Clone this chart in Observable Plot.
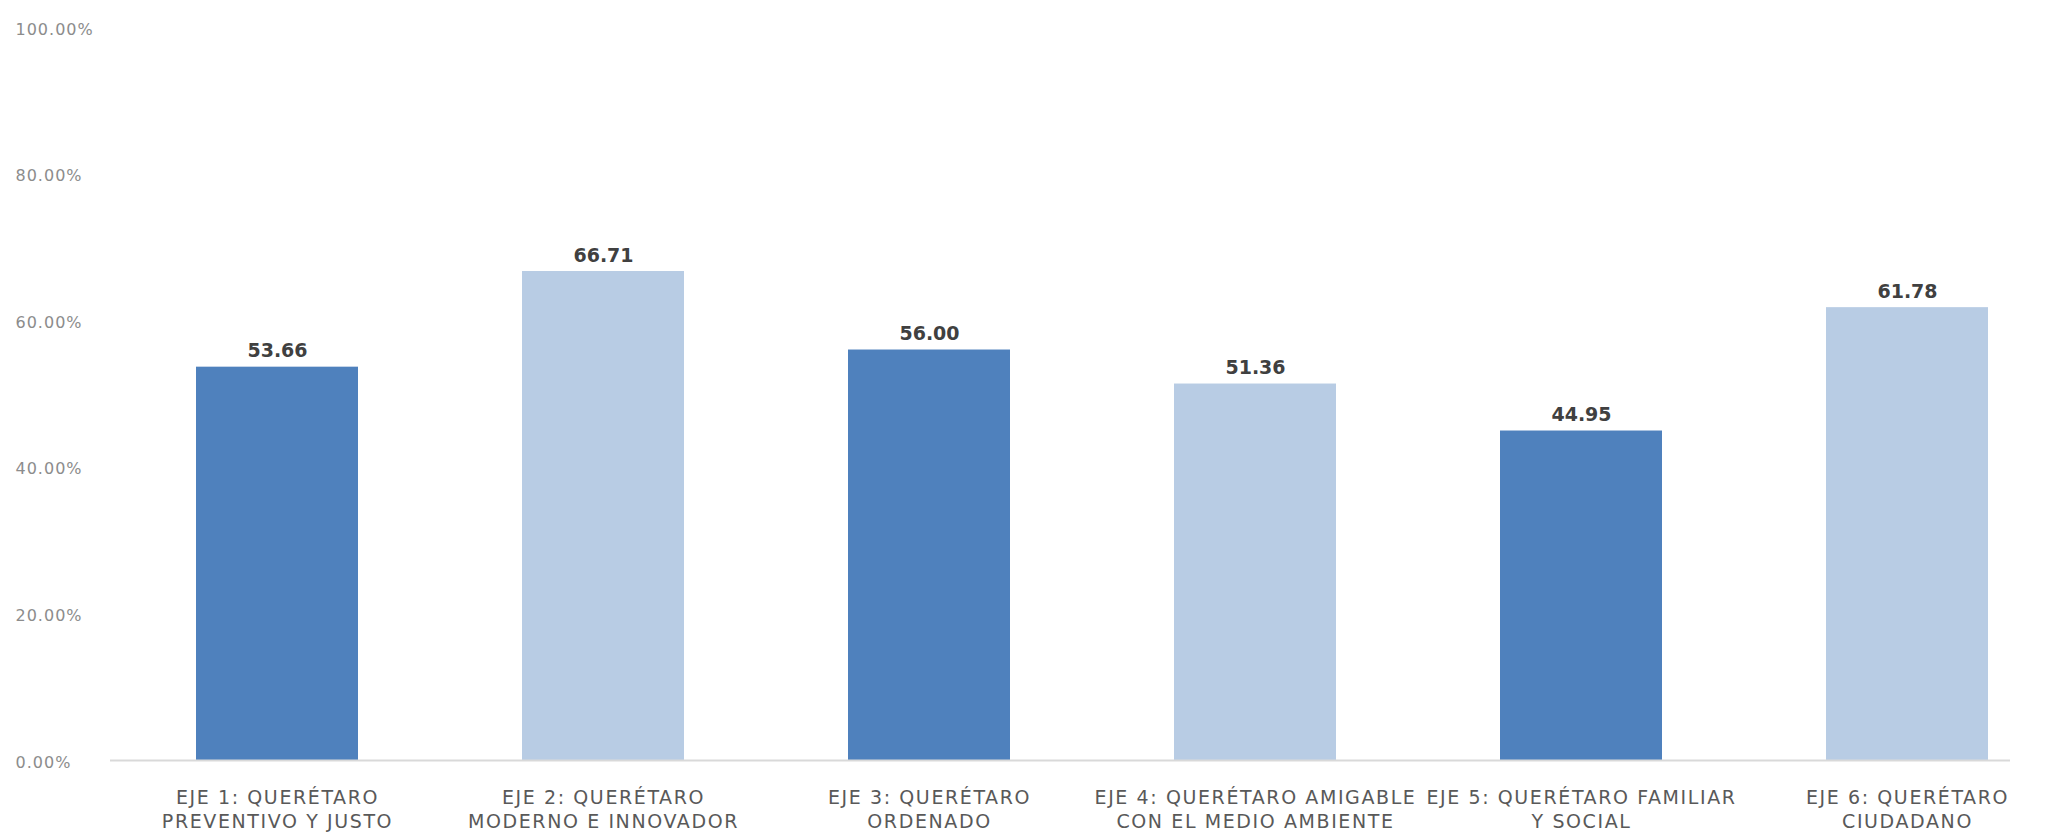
<!DOCTYPE html>
<html>
<head>
<meta charset="utf-8">
<script src="https://cdn.jsdelivr.net/npm/d3@7"></script>
<script src="https://cdn.jsdelivr.net/npm/@observablehq/plot@0.6"></script>
<style>
  html, body { margin: 0; padding: 0; background: #ffffff; }
  #chart svg { display: block; }
</style>
</head>
<body>
<div id="chart"></div>
<script>
// Categories (axis labels, two lines each)
const categories = [
  "EJE 1: QUERÉTARO\nPREVENTIVO Y JUSTO",
  "EJE 2: QUERÉTARO\nMODERNO E INNOVADOR",
  "EJE 3: QUERÉTARO\nORDENADO",
  "EJE 4: QUERÉTARO AMIGABLE\nCON EL MEDIO AMBIENTE",
  "EJE 5: QUERÉTARO FAMILIAR\nY SOCIAL",
  "EJE 6: QUERÉTARO\nCIUDADANO"
];
// Values (percent)
const values = [53.66, 66.71, 56.00, 51.36, 44.95, 61.78];
// Y tick values
const yTicks = [0, 20, 40, 60, 80, 100];

const data = categories.map((c, i) => ({category: c, value: values[i], idx: i}));
const darkBlue = "#4f81bd";
const lightBlue = "#b8cce4";

const chart = Plot.plot({
  width: 2052,
  height: 839,
  marginLeft: 110,
  marginRight: 42,
  marginTop: 27,
  marginBottom: 79,
  style: {fontFamily: "DejaVu Sans", background: "#ffffff"},
  x: {domain: categories, paddingInner: 0.503, paddingOuter: 0.164, align: 0.794, label: null},
  y: {domain: [0, 100], label: null},
  marks: [
    Plot.barY(data, {x: "category", y: "value", fill: d => d.idx % 2 ? lightBlue : darkBlue}),
    Plot.ruleY([0], {stroke: "#d9d9d9", strokeWidth: 2}),
    Plot.text(data, {
      x: "category", y: "value", text: d => d.value.toFixed(2),
      lineAnchor: "middle", dy: -16, fontSize: 19, fontWeight: "bold", fill: "#404040",
      ariaLabel: "value-label"
    }),
    Plot.axisY({
      ticks: yTicks, tickSize: 0, tickPadding: 0, textAnchor: "start", dx: -95, dy: 2,
      tickFormat: d => d.toFixed(2) + "%", fontSize: 16, fill: "#8c8c8c", label: null
    }),
    Plot.axisX({
      tickSize: 0, tickPadding: 26, fontSize: 19, fill: "#595959",
      lineHeight: 24 / 19, tickFormat: d => d, label: null
    })
  ]
});
document.getElementById("chart").appendChild(chart);
d3.select(chart).selectAll('g[aria-label="x-axis tick label"] text').style("letter-spacing", "1.6px");
d3.select(chart).selectAll('g[aria-label="y-axis tick label"] text').style("letter-spacing", "1px");
</script>
</body>
</html>
